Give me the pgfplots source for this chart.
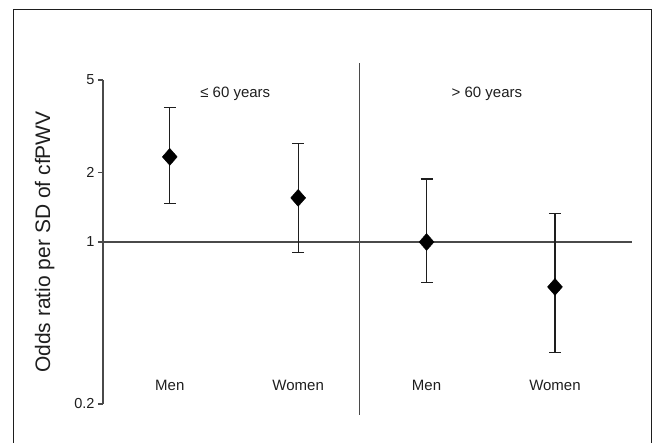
\documentclass[border=0pt]{standalone}
\usepackage{pgfplots}
\pgfplotsset{compat=1.18}
\usepackage{fontspec}
\setmainfont{Liberation Sans}

\definecolor{linegray}{HTML}{4A4A4A}
\definecolor{ink}{HTML}{1E1E1E}

\pgfplotstableread{
x    y     ep    em
1    2.33  1.49  0.86
2    1.55  1.10  0.65
3    1.00  0.87  0.334
4    0.64  0.69  0.305
}\ordata

\begin{document}
\begin{tikzpicture}[x=1pt,y=1pt]
\useasboundingbox (0,0) rectangle (656,443);
\draw[line width=1.3pt, ink] (13.5,-10) rectangle (651.5,433.5);
\begin{axis}[
  at={(103pt,39pt)}, anchor=south west,
  scale only axis, width=529pt, height=324pt,
  ymode=log, ymin=0.2, ymax=5, xmin=0.48, xmax=4.6,
  axis x line=none, axis y line*=left,
  axis line style={linegray, line width=1.1pt},
  ytick={0.2,1,2,5}, yticklabels={0.2,1,2,5},
  minor ytick={}, tick align=outside, major tick length=5pt,
  tick style={linegray, line width=1.1pt},
  y tick label style={font=\fontsize{14.5}{16}\selectfont, text=ink},
  /pgf/number format/assume math mode=true,
  ylabel={Odds ratio per SD of cfPWV},
  every axis y label/.style={at={(axis description cs:-0.11,0.5)}, rotate=90,
    anchor=center, font=\fontsize{21}{24}\selectfont, text=ink},
  clip=false,
]
% reference line at 1 and divider between age groups
\addplot[linegray, line width=1.1pt] coordinates {(0.48,1) (4.6,1)};
\addplot[linegray, line width=1.1pt] coordinates {(2.48,0.18) (2.48,5.9)};

\addplot[
  only marks, mark=diamond*, mark size=8.5pt,
  mark options={fill=black, draw=black, xscale=1.17},
  error bars/.cd, y dir=both, y explicit,
  error bar style={ink, line width=1.1pt},
  error mark options={rotate=90, mark size=6pt, ink, line width=1.1pt},
] table[x=x, y=y, y error plus=ep, y error minus=em] {\ordata};

\begin{scope}[font=\fontsize{15}{18}\selectfont, text=ink]
\node at (axis cs:1,0.2415) {Men};
\node at (axis cs:2,0.2415) {Women};
\node at (axis cs:3,0.2415) {Men};
\node at (axis cs:4,0.2415) {Women};
\node at (axis cs:1.51,4.35) {≤ 60 years};
\node at (axis cs:3.47,4.35) {> 60 years};
\end{scope}
\end{axis}
\end{tikzpicture}
\end{document}
